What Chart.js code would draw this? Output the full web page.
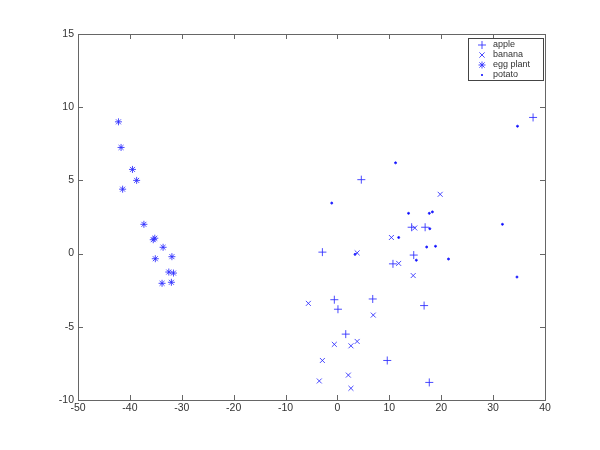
<!DOCTYPE html>
<html>
<head>
<meta charset="utf-8">
<script src="https://cdn.jsdelivr.net/npm/chart.js@4/dist/chart.umd.min.js"></script>
<style>
  html, body { margin: 0; padding: 0; background: #fff; }
  #wrap { width: 600px; height: 450px; }
</style>
</head>
<body>
<div id="wrap"><canvas id="chart"></canvas></div>
<script>
const seriesNames = ["apple", "banana", "egg plant", "potato"];

const appleX = [4.6, 14.3, 16.9, -2.9, 14.7, 10.7, -0.6, 0.1, 6.8, 1.6, 9.6, 16.7, 17.7, 37.7];
const appleY = [5.05, 1.8, 1.8, 0.1, -0.1, -0.7, -3.15, -3.8, -3.1, -5.5, -7.3, -3.55, -8.8, 9.3];

const bananaX = [14.9, 19.8, 10.4, 3.8, 11.8, 14.6, -5.6, 6.9, -0.6, 2.6, 3.8, -2.9, 2.1, -3.5, 2.6];
const bananaY = [1.75, 4.05, 1.1, 0.05, -0.67, -1.5, -3.4, -4.2, -6.2, -6.3, -6.0, -7.3, -8.3, -8.7, -9.2];

const eggX = [-42.2, -41.7, -39.5, -38.7, -41.4, -37.3, -35.5, -35.2, -33.6, -35.1, -31.9, -32.5, -31.6, -33.8, -32.0];
const eggY = [9.0, 7.25, 5.75, 5.0, 4.4, 2.0, 0.95, 1.05, 0.43, -0.35, -0.21, -1.26, -1.33, -2.03, -1.96];

const potatoX = [11.2, -1.1, 13.7, 17.7, 18.3, 17.8, 11.8, 3.4, 15.2, 17.2, 18.9, 21.4, 31.8, 34.7, 34.6];
const potatoY = [6.2, 3.45, 2.75, 2.75, 2.85, 1.7, 1.1, -0.05, -0.45, 0.45, 0.5, -0.37, 2.0, 8.7, -1.6];

const xTicks = [-50, -40, -30, -20, -10, 0, 10, 20, 30, 40];
const yTicks = [-10, -5, 0, 5, 10, 15];

const markerColor = "#2a2aff";
const axisColor = "#666666";
const labelFont = {family: "'Liberation Sans', Arial, sans-serif", size: 10.5};

function toPoints(xs, ys) {
  return xs.map((x, i) => ({x, y: ys[i]}));
}

const styles = [
  {pointStyle: "cross", radius: 4},
  {pointStyle: "crossRot", radius: 3.5},
  {pointStyle: "star", radius: 3.5},
  {pointStyle: "circle", radius: 1}
];

const datasets = [
  toPoints(appleX, appleY),
  toPoints(bananaX, bananaY),
  toPoints(eggX, eggY),
  toPoints(potatoX, potatoY)
].map((data, i) => ({
  label: seriesNames[i],
  data,
  pointStyle: styles[i].pointStyle,
  pointRadius: styles[i].radius,
  pointHoverRadius: styles[i].radius,
  borderColor: markerColor,
  backgroundColor: "#0000ff",
  pointBorderWidth: i === 3 ? 1 : 0.85
}));

// box, inward ticks on all four sides and the legend inside the axes
const matlabFrame = {
  id: "matlabFrame",
  afterDraw(chart) {
    const {ctx, chartArea: a, scales} = chart;
    ctx.save();
    ctx.strokeStyle = axisColor;
    ctx.lineWidth = 1;
    ctx.strokeRect(Math.round(a.left) + 0.5, Math.round(a.top) + 0.5, Math.round(a.right - a.left), Math.round(a.bottom - a.top));
    const len = 5;
    ctx.beginPath();
    xTicks.forEach(v => {
      const px = Math.round(scales.x.getPixelForValue(v)) + 0.5;
      ctx.moveTo(px, a.bottom); ctx.lineTo(px, a.bottom - len);
      ctx.moveTo(px, a.top); ctx.lineTo(px, a.top + len);
    });
    yTicks.forEach(v => {
      const py = Math.round(scales.y.getPixelForValue(v)) + 0.5;
      ctx.moveTo(a.left, py); ctx.lineTo(a.left + len, py);
      ctx.moveTo(a.right, py); ctx.lineTo(a.right - len, py);
    });
    ctx.stroke();

    // legend
    const lx = 468, ly = 38, lw = 75, lh = 42;
    ctx.fillStyle = "#fff";
    ctx.fillRect(lx, ly, lw, lh);
    ctx.strokeStyle = "#444";
    ctx.strokeRect(lx + 0.5, ly + 0.5, lw, lh);
    ctx.font = "9px 'Liberation Sans', Arial, sans-serif";
    ctx.textBaseline = "middle";
    seriesNames.forEach((name, i) => {
      const cy = ly + 7 + i * 10;
      const cx = lx + 14;
      ctx.strokeStyle = markerColor;
      ctx.fillStyle = "#0000ff";
      ctx.lineWidth = 0.85;
      const r = styles[i].radius;
      ctx.beginPath();
      if (i === 0 || i === 2) {
        ctx.moveTo(cx - r, cy); ctx.lineTo(cx + r, cy);
        ctx.moveTo(cx, cy - r); ctx.lineTo(cx, cy + r);
      }
      if (i === 1 || i === 2) {
        const d = r * 0.75;
        ctx.moveTo(cx - d, cy - d); ctx.lineTo(cx + d, cy + d);
        ctx.moveTo(cx - d, cy + d); ctx.lineTo(cx + d, cy - d);
      }
      ctx.stroke();
      if (i === 3) {
        ctx.beginPath();
        ctx.arc(cx, cy, 1, 0, Math.PI * 2);
        ctx.fill();
      }
      ctx.fillStyle = "#333";
      ctx.fillText(name, lx + 25, cy);
    });
    ctx.restore();
  }
};

new Chart(document.getElementById("chart"), {
  type: "scatter",
  data: {datasets},
  plugins: [matlabFrame],
  options: {
    responsive: true,
    maintainAspectRatio: false,
    animation: false,
    layout: {padding: {top: 34, right: 55, left: 0, bottom: 0}},
    plugins: {legend: {display: false}, tooltip: {enabled: false}},
    scales: {
      x: {
        type: "linear",
        min: -50,
        max: 40,
        afterBuildTicks: scale => { scale.ticks = xTicks.map(value => ({value})); },
        afterFit: scale => { scale.height = 50; },
        grid: {drawOnChartArea: false, drawTicks: false},
        border: {display: false},
        ticks: {color: "#333", padding: 2, maxRotation: 0, font: labelFont}
      },
      y: {
        type: "linear",
        min: -10,
        max: 15,
        afterBuildTicks: scale => { scale.ticks = yTicks.map(value => ({value})); },
        afterFit: scale => { scale.width = 78; },
        grid: {drawOnChartArea: false, drawTicks: false},
        border: {display: false},
        ticks: {color: "#333", padding: 4, font: labelFont}
      }
    }
  }
});
</script>
</body>
</html>
